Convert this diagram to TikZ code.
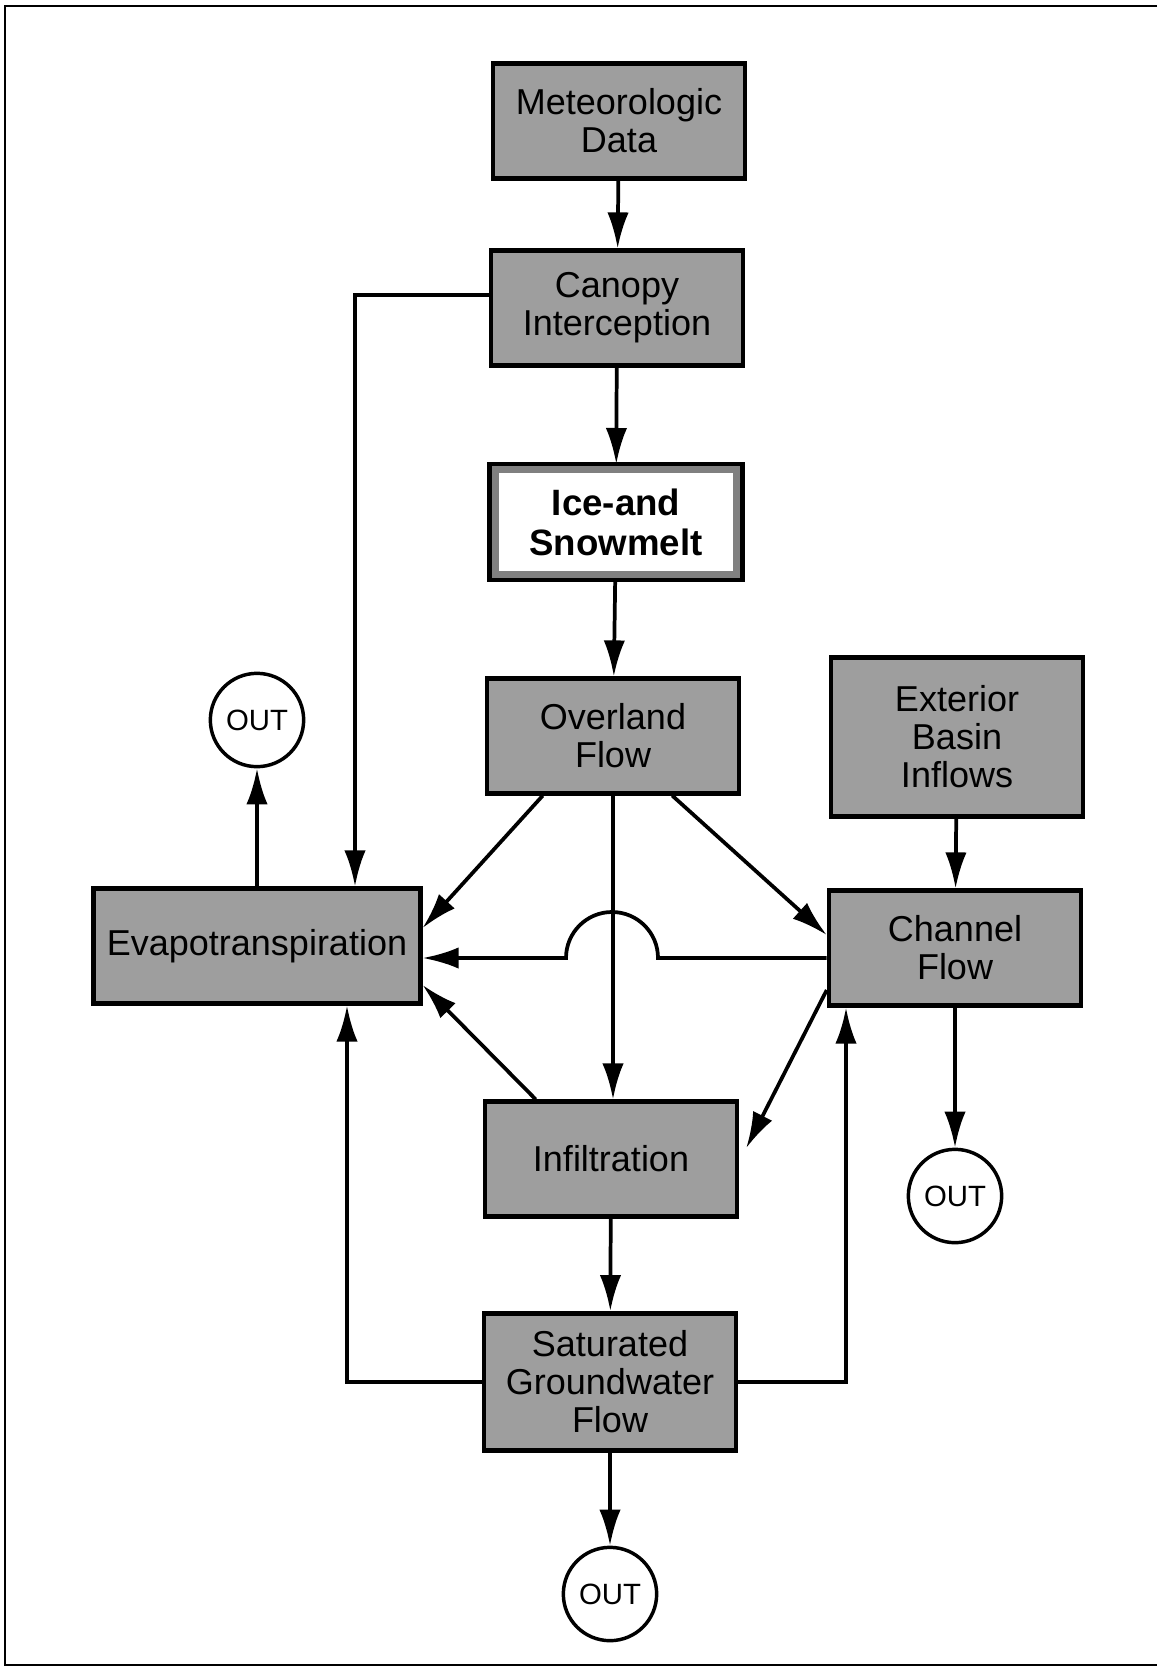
\documentclass[tikz,border=0pt]{standalone}
\usepackage{fontspec}
\setmainfont{Liberation Sans}
\usetikzlibrary{arrows.meta,calc}

\tikzset{every picture/.style={line width=0.75pt}}
\tikzset{
  stage/.style={draw, line width=3.4pt, fill=black!38, minimum width=189pt, minimum height=86pt, align=center, inner sep=0pt, font=\fontsize{27}{28.5}\selectfont},
  meltbox/.style={stage, draw=black!50, line width=7pt, fill=white, minimum width=183pt, minimum height=80pt, font=\fontsize{27.5}{30}\selectfont\bfseries},
  outlet/.style={draw, circle, line width=2.6pt, minimum size=70pt, inner sep=0pt, fill=white, font=\fontsize{22}{24}\selectfont},
  flow/.style={line width=2.8pt, -{Latex[length=27pt,width=16pt]}},
}

\begin{document}
\begin{tikzpicture}[x=0.75pt,y=0.75pt,yscale=-1,xscale=1]
\useasboundingbox (0,0) rectangle (1157,1669);

% Frame
\draw[line width=2pt] (1157,6) -- (5,6) -- (5,1665) -- (1157,1665);

% Boxes
\node (met) at (619,121) [stage] {Meteorologic\\Data};
\node (canopy) at (617,308) [stage] {Canopy\\Interception};
\node (ice) at (616,522) [meltbox] {Ice-and\\Snowmelt};
\draw[line width=3.6pt] (ice.north west) rectangle (ice.south east);
\node (over) at (613,736) [stage] {Overland\\Flow};
\node (ext) at (957,737) [stage, minimum height=119pt] {Exterior\\Basin\\Inflows};
\node (evapo) at (257,946) [stage, minimum width=245pt] {Evapotranspiration};
\node (channel) at (955,948) [stage] {Channel\\Flow};
\node (infil) at (611,1159) [stage] {Infiltration};
\node (sat) at (610,1382) [stage, minimum height=103pt] {Saturated\\Groundwater\\Flow};

% Outlets
\node (outE) at (257,720) [outlet] {OUT};
\node (outC) at (955,1196) [outlet] {OUT};
\node (outS) at (610,1594) [outlet] {OUT};

% Bends
\coordinate (cpyL) at (355,295);
\coordinate (hop) at (612,958);
\coordinate (gwL) at (347,1382);
\coordinate (gwR) at (846,1382);

% Connectors
\draw[flow] (met) -- (canopy);
\draw[flow] (canopy) -- (ice);
\draw[flow] (ice) -- (over);
\draw[flow] (over.south) -- (over.south |- infil.north);
\draw[flow] (infil) -- (sat);
\draw[flow] (sat) -- (outS);
\draw[flow] (ext) -- (channel);
\draw[flow] (channel) -- (outC);
\draw[flow] (evapo.north -| outE) -- (outE);
\draw[flow] (canopy.west |- cpyL) -- (cpyL) -- (cpyL |- evapo.north);
\draw[flow] ($(over.south west)+(58,0)$) -- ($(evapo.east)+(0,-18)$);
\draw[flow] ($(over.south east)+(-69,0)$) -- ($(channel.west)+(0,-13)$);
\draw[flow] ($(channel.west)+(0,42)$) -- ($(infil.east)+(7,-11)$);
\draw[flow] ($(infil.north west)+(53,0)$) -- ($(evapo.east)+(0,39)$);
\draw[flow] (channel.west |- hop) -- ($(hop)+(46,0)$) arc[start angle=0,end angle=-180,radius=46] -- (evapo.east |- hop);
\draw[flow] (sat.west) -- (gwL) -- (gwL |- evapo.south);
\draw[flow] (sat.east) -- (gwR) -- (gwR |- channel.south);

\end{tikzpicture}
\end{document}
